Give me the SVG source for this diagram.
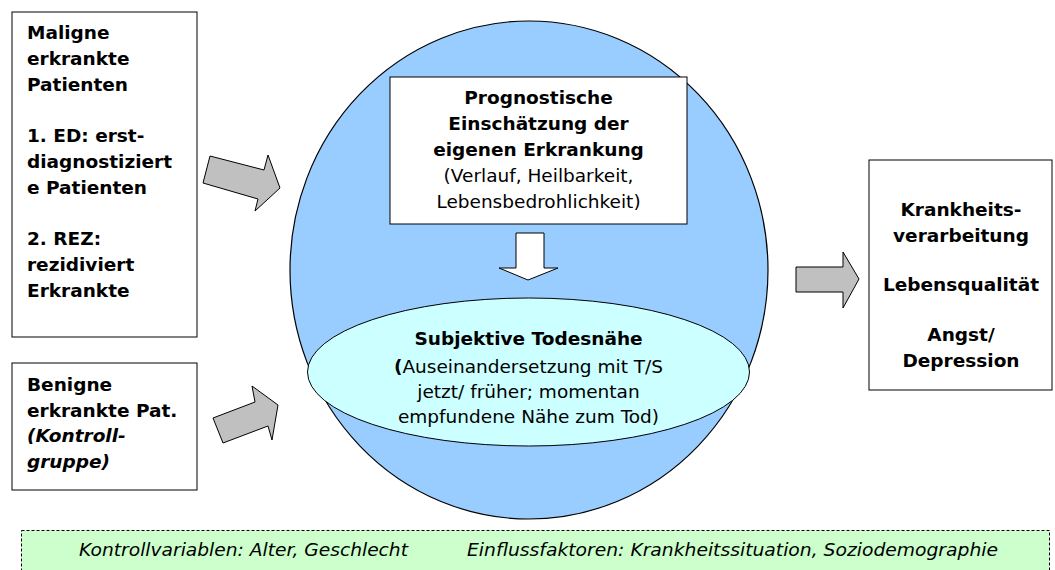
<svg xmlns="http://www.w3.org/2000/svg" width="1055" height="570" viewBox="0 0 1055 570">
<style>
.box{fill:#fff;stroke:#000;stroke-width:1}
.t{font-family:"DejaVu Sans",Verdana,sans-serif;font-size:18.5px;fill:#000}
.b{font-weight:bold}
.i{font-style:italic}
.c{text-anchor:middle}
.garrow{fill:#C0C0C0;stroke:#000;stroke-width:1;stroke-linejoin:miter}
</style>
<rect width="1055" height="570" fill="#fff"/>
<g id="circle">
<ellipse cx="529" cy="270" rx="239" ry="249" fill="#99CCFF" stroke="#000" stroke-width="1.2"/>
</g>
<g id="maligne">
<rect class="box" x="12" y="12" width="185" height="325"/>
<text class="t b" x="27" y="39">Maligne</text>
<text class="t b" x="27" y="64.8">erkrankte</text>
<text class="t b" x="27" y="90.6">Patienten</text>
<text class="t b" x="27" y="142.2">1. ED: erst-</text>
<text class="t b" x="27" y="168">diagnostiziert</text>
<text class="t b" x="27" y="193.8">e Patienten</text>
<text class="t b" x="27" y="245.4">2. REZ:</text>
<text class="t b" x="27" y="271.2">rezidiviert</text>
<text class="t b" x="27" y="297">Erkrankte</text>
</g>
<g id="benigne">
<rect class="box" x="12" y="363" width="185" height="127"/>
<text class="t b" x="27" y="391">Benigne</text>
<text class="t b" x="27" y="416.5">erkrankte Pat.</text>
<text class="t b i" x="27" y="442">(Kontroll-</text>
<text class="t b i" x="27" y="467.5">gruppe)</text>
</g>
<g id="prognose">
<rect class="box" x="390" y="77" width="297" height="147"/>
<text class="t b c" x="538.5" y="104">Prognostische</text>
<text class="t b c" x="538.5" y="130">Einschätzung der</text>
<text class="t b c" x="538.5" y="156">eigenen Erkrankung</text>
<text class="t c" x="538.5" y="182">(Verlauf, Heilbarkeit,</text>
<text class="t c" x="538.5" y="207.5">Lebensbedrohlichkeit)</text>
</g>
<g id="todesnaehe">
<ellipse cx="528.5" cy="372" rx="221" ry="74" fill="#CCFFFF" stroke="#000" stroke-width="1"/>
<text class="t b c" x="528.5" y="345">Subjektive Todesnähe</text>
<text class="t c" x="528.5" y="373"><tspan font-weight="bold">(</tspan>Auseinandersetzung mit T/S</text>
<text class="t c" x="528.5" y="398">jetzt/ früher; momentan</text>
<text class="t c" x="528.5" y="423">empfundene Nähe zum Tod)</text>
</g>
<g id="outcome">
<rect class="box" x="869" y="160" width="183" height="230"/>
<text class="t b c" x="961" y="216">Krankheits-</text>
<text class="t b c" x="961" y="242">verarbeitung</text>
<text class="t b c" x="961" y="291">Lebensqualität</text>
<text class="t b c" x="961" y="341">Angst/</text>
<text class="t b c" x="961" y="367">Depression</text>
</g>
<g id="legend">
<rect x="21.5" y="530.5" width="1028" height="45" fill="#CCFFCC" stroke="#000" stroke-width="1" stroke-dasharray="3,2"/>
<text class="t i" x="79" y="556" textLength="329" lengthAdjust="spacingAndGlyphs">Kontrollvariablen: Alter, Geschlecht</text>
<text class="t i" x="467" y="556" textLength="531" lengthAdjust="spacingAndGlyphs">Einflussfaktoren: Krankheitssituation, Soziodemographie</text>
</g>
<g id="connectors">
<polygon class="garrow" points="210,156 264,170 268,155 280,188 255,211 258,199 203,183"/>
<polygon class="garrow" points="213,418 255,402 252,386 278,405 272,440 268,426 223,443"/>
<polygon class="garrow" points="796,267 843,267 843,252 859,279 843,308 843,292 796,292"/>
<polygon points="516,233 544,233 544,268 558,268 528,280 499,268 516,268" fill="#fff" stroke="#000" stroke-width="1"/>
</g>
</svg>
